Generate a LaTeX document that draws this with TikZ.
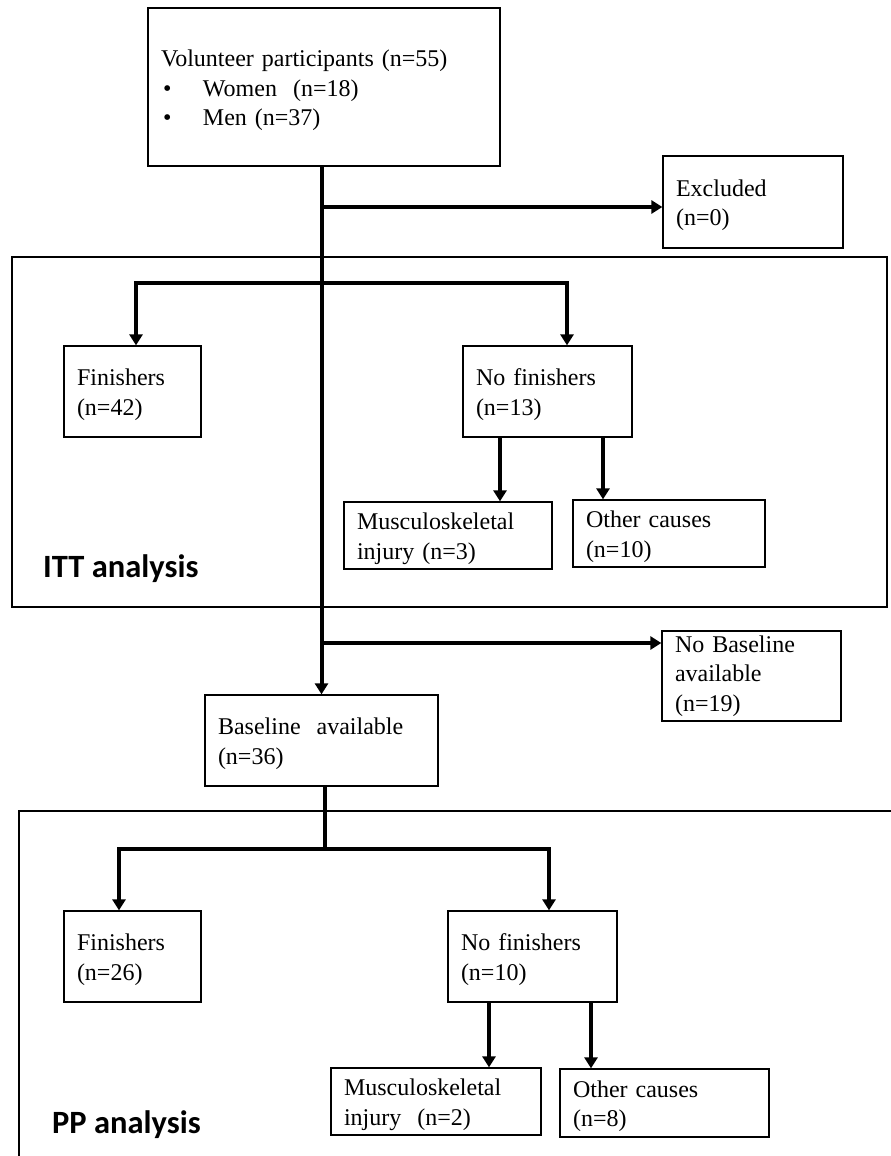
\documentclass[tikz,border=0pt]{standalone}
\usepackage{fontspec}
\setmainfont{Liberation Serif}
\newfontfamily\labfont{Carlito}
\usetikzlibrary{arrows.meta}
\newcommand\topstrut{\rule{0pt}{23.4pt}}
\begin{document}
\begin{tikzpicture}[x=1pt,y=-1pt,
  bx/.style={draw, line width=1.3pt, align=left, inner xsep=13pt, inner ysep=1pt, font=\fontsize{24}{29.5}\selectfont},
  conn/.style={line width=4pt},
  arr/.style={line width=4pt, -{Triangle[length=11pt,width=13pt]}},
  frame/.style={draw, line width=1.3pt},
  lab/.style={font=\labfont\bfseries\fontsize{32.5}{38}\selectfont, anchor=base west, inner sep=0pt}]
\useasboundingbox (0,0) rectangle (891,1156);
\clip (0,0) rectangle (891,1156);
\fill[white] (0,0) rectangle (891,1156);

% group frames
\draw[frame] (12,257) rectangle (887,607);
\draw[frame] (19,811) rectangle (905,1180);
\node[lab] (itt) at (43,577) {ITT analysis};
\node[lab] (pp) at (52,1133) {PP analysis};

% boxes
\node[bx, text width=326pt, minimum height=158pt] (top) at (324,87)
  {\topstrut Volunteer participants (n=55)\\\hspace*{2pt}\makebox[40pt][l]{\textbullet}Women\ \ (n=18)\\\hspace*{2pt}\makebox[40pt][l]{\textbullet}Men (n=37)};
\node[bx, text width=154pt, minimum height=92pt] (excl) at (753,202) {\topstrut Excluded\\(n=0)};
\node[bx, text width=111pt, minimum height=91pt] (fin1) at (132.5,391.5) {\topstrut Finishers\\(n=42)};
\node[bx, text width=143pt, minimum height=91pt] (nf1) at (547.5,391.5) {\topstrut No finishers\\(n=13)};
\node[bx, text width=182pt, minimum height=67pt] (mus1) at (448,535.5) {\topstrut Musculoskeletal\\injury (n=3)};
\node[bx, text width=166pt, minimum height=67pt] (oth1) at (669,533.5) {\topstrut Other causes\\(n=10)};
\node[bx, text width=153pt, minimum height=90pt, inner ysep=0pt] (nobase) at (751.5,676) {No Baseline\\available\\(n=19)};
\node[bx, text width=207pt, minimum height=91pt] (base) at (321.5,740.5) {\topstrut Baseline\ \ available\\(n=36)};
\node[bx, text width=111pt, minimum height=91pt] (fin2) at (132.5,956.5) {\topstrut Finishers\\(n=26)};
\node[bx, text width=143pt, minimum height=91pt] (nf2) at (532.5,956.5) {\topstrut No finishers\\(n=10)};
\node[bx, text width=184pt, minimum height=67pt] (mus2) at (436,1101.5) {\topstrut Musculoskeletal\\injury\ \ (n=2)};
\node[bx, text width=183pt, minimum height=68pt] (oth2) at (664.5,1103) {\topstrut Other causes\\(n=8)};

% junction points
\coordinate (j1) at (321.5,207);
\coordinate (j2) at (321.5,283);
\coordinate (j3) at (321.5,643);
\coordinate (j4) at (324.5,849);
\coordinate (a1) at ([xshift=-47.5pt]nf1.south);
\coordinate (a2) at ([xshift=55.5pt]nf1.south);
\coordinate (a3) at ([xshift=-43.5pt]nf2.south);
\coordinate (a4) at ([xshift=58.5pt]nf2.south);

% connectors
\draw[arr] (top.south -| base.north) -- (base.north);
\draw[arr] (j1) -- (j1 -| excl.west);
\draw[arr] (j2) -| ([xshift=3.5pt]fin1.north);
\draw[arr] (j2) -| ([xshift=19.5pt]nf1.north);
\draw[arr] (a1) -- (a1 |- mus1.north);
\draw[arr] (a2) -- (a2 |- oth1.north);
\draw[arr] (j3) -- (j3 -| nobase.west);
\draw[conn] (j4 |- base.south) -- (j4);
\draw[arr] (j4) -| ([xshift=-13.5pt]fin2.north);
\draw[arr] (j4) -| ([xshift=16.5pt]nf2.north);
\draw[arr] (a3) -- (a3 |- mus2.north);
\draw[arr] (a4) -- (a4 |- oth2.north);
\end{tikzpicture}
\end{document}
